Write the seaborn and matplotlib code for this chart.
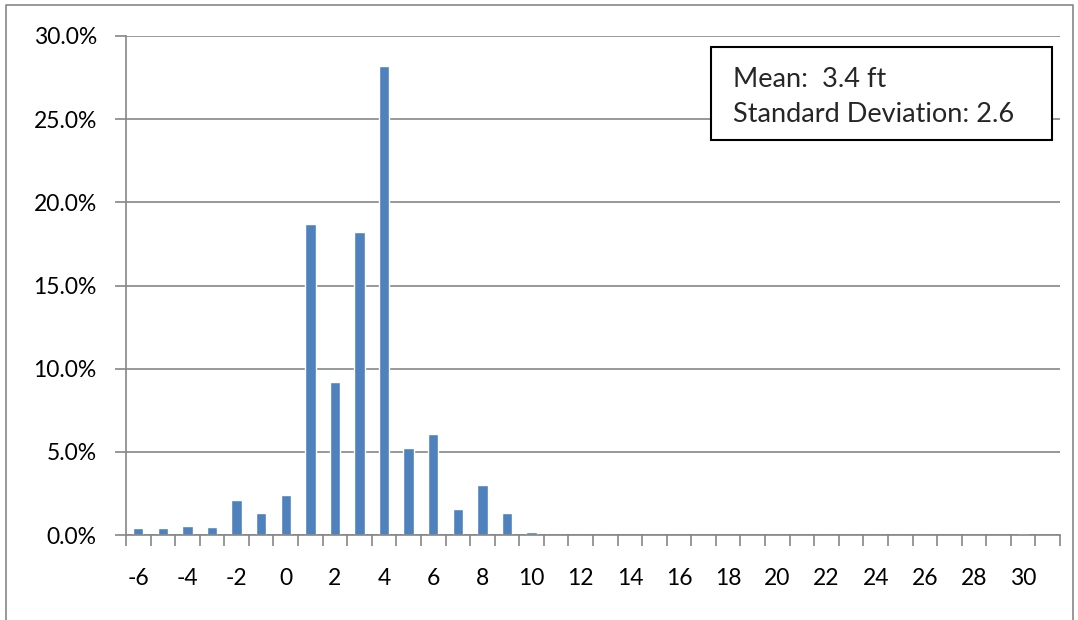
import matplotlib
matplotlib.use("Agg")
import matplotlib.pyplot as plt
import seaborn as sns
import pandas as pd
import numpy as np
from matplotlib.ticker import FuncFormatter, FixedLocator
from matplotlib.patches import Rectangle
from matplotlib.lines import Line2D

categories = list(range(-6, 32))
values = [0.40, 0.40, 0.52, 0.48, 2.09, 1.35, 2.43, 18.7, 9.2, 18.2, 28.2,
          5.22, 6.1, 1.55, 3.01, 1.33, 0.16,
          0, 0, 0, 0, 0, 0, 0, 0, 0, 0, 0, 0, 0, 0, 0, 0, 0, 0, 0, 0.05, 0]
stats_text = "Mean:  3.4 ft\nStandard Deviation: 2.6"

sns.set_style("white")
plt.rcParams['font.family'] = ['Lato', 'DejaVu Sans']

df = pd.DataFrame({"cat": [str(c) for c in categories], "val": values})

fig = plt.figure(figsize=(10.78, 6.2), dpi=100)
ax = fig.add_axes([126/1078, 1-535/620, (1060-126)/1078, (535-36)/620])

sns.barplot(data=df, x="cat", y="val", order=df["cat"], color="#4F81BD",
            width=0.42, saturation=1, ax=ax)

n = len(categories)
ax.set_xlim(-0.5, n - 0.5)
ax.set_ylim(0, 30)
ax.set_yticks(np.arange(0, 30.1, 5))
ax.yaxis.set_major_formatter(FuncFormatter(lambda v, p: f"{v:.1f}%"))
ax.yaxis.grid(True, color="#868686", linewidth=1.2)
ax.set_axisbelow(True)

lab_pos = [i for i, c in enumerate(categories) if c % 2 == 0]
ax.set_xticks(lab_pos)
ax.set_xticklabels([str(categories[i]) for i in lab_pos])
ax.xaxis.set_minor_locator(FixedLocator(np.arange(-0.5, n, 1)))
ax.tick_params(axis="x", which="major", length=0, pad=24, labelsize=16.5,
               labelcolor="black")
ax.tick_params(axis="x", which="minor", length=8, width=1.2, color="#868686", bottom=True)
ax.tick_params(axis="y", which="major", length=8, width=1.2, color="#868686", left=True,
               pad=13, labelsize=16.5, labelcolor="black")

ax.set_xlabel("")
ax.set_ylabel("")
for s in ["top", "right"]:
    ax.spines[s].set_visible(False)
for s in ["left", "bottom"]:
    ax.spines[s].set_color("#868686")
    ax.spines[s].set_linewidth(1.2)

# stats box
box = Rectangle((711/1078, 1-140/620), (1052-711)/1078, (140-47)/620,
                transform=fig.transFigure, facecolor="white", edgecolor="black",
                linewidth=1.5, zorder=5)
fig.patches.append(box)
fig.text(733/1078, 1-97/620, stats_text, ha="left", va="center", fontsize=19.5,
         linespacing=1.5, zorder=6)

# outer chart border
fig.add_artist(Line2D([6/1078, 6/1078, 1073/1078, 1073/1078],
                      [0, 1-5/620, 1-5/620, 0], transform=fig.transFigure,
                      color="#868686", linewidth=1.2))

fig.savefig("out.png", dpi=100)
